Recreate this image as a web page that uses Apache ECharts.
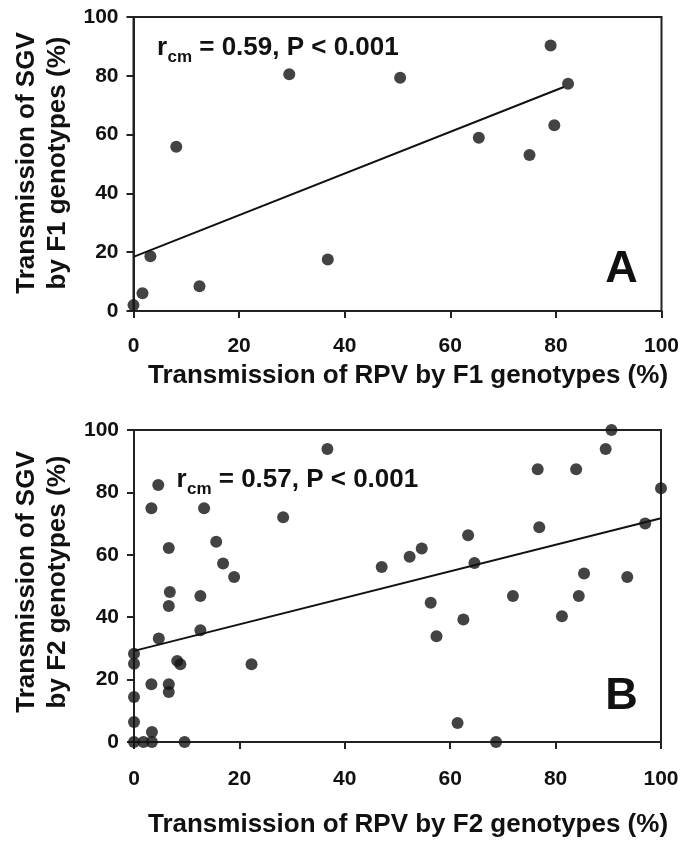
<!DOCTYPE html>
<html>
<head>
<meta charset="utf-8">
<script src="https://cdn.jsdelivr.net/npm/echarts@6/dist/echarts.min.js"></script>
<style>
html,body{margin:0;padding:0;background:#fff;}
#c{width:695px;height:842px;}
</style>
</head>
<body>
<div id="c"></div>
<script>
// Panel A (F1 genotypes)
const f1RPV = [0, 1.7, 3.2, 8.1, 12.5, 29.5, 36.8, 50.5, 65.4, 75, 79, 79.7, 82.3];
const f1SGV = [2, 6, 18.6, 55.9, 8.4, 80.5, 17.5, 79.3, 58.9, 53.1, 90.3, 63.2, 77.3];
const f1FitX = [0, 81.5];
const f1FitY = [18.4, 76.2];

// Panel B (F2 genotypes)
const f2RPV = [0, 0, 0, 0, 0, 1.8, 3.4, 3.4, 3.3, 3.3, 4.6, 4.7, 6.6, 6.8, 6.6, 6.6, 6.6, 8.2, 8.8, 9.6,
  12.6, 12.6, 13.3, 15.6, 16.9, 19, 22.3, 28.3, 36.7, 47, 52.3, 54.6, 63.4, 64.6, 56.3, 57.4, 62.5, 61.4,
  68.7, 71.9, 76.6, 76.9, 81.2, 83.9, 84.4, 85.4, 89.5, 90.6, 93.6, 97, 100];
const f2SGV = [28.3, 25.1, 14.4, 6.4, 0, 0, 0, 3.2, 18.5, 74.9, 82.4, 33.2, 62.2, 48.1, 43.6, 18.5, 16, 26, 24.9, 0,
  46.8, 35.8, 74.9, 64.2, 57.2, 52.9, 24.9, 72, 93.9, 56.1, 59.4, 62, 66.3, 57.4, 44.6, 33.9, 39.3, 6.1,
  0, 46.8, 87.4, 68.8, 40.3, 87.4, 46.8, 54, 93.9, 100, 52.9, 70, 81.3];
const f2FitX = [0, 100];
const f2FitY = [29.2, 71.7];

const ticks = [0, 20, 40, 60, 80, 100];
const titlesX = ['Transmission of RPV by F1 genotypes (%)', 'Transmission of RPV by F2 genotypes (%)'];
const titlesY1 = ['Transmission of SGV', 'Transmission of SGV'];
const titlesY2 = ['by F1 genotypes (%)', 'by F2 genotypes (%)'];
const stats = [' = 0.59, P < 0.001', ' = 0.57, P < 0.001'];
const panels = ['A', 'B'];

const pairs = (xs, ys) => xs.map((x, i) => [x, ys[i]]);

const mainFont = "'Liberation Sans', Arial, sans-serif";

function axisCommon() {
  return {
    type: 'value', min: 0, max: 100, interval: 20,
    axisLine: { show: true, onZero: false, lineStyle: { color: '#222', width: 2 } },
    axisTick: { show: true, inside: false, length: 7, lineStyle: { color: '#222', width: 2 } },
    splitLine: { show: false },
    axisLabel: {
      fontSize: 21, fontWeight: 'bold', fontFamily: mainFont, color: '#111',
      formatter: v => (ticks.indexOf(v) >= 0 ? String(v) : '')
    }
  };
}

const xA = Object.assign(axisCommon(), { gridIndex: 0 }); xA.axisLabel.margin = 25;
const xB = Object.assign(axisCommon(), { gridIndex: 1 }); xB.axisLabel.margin = 27;
const yA = Object.assign(axisCommon(), { gridIndex: 0 }); yA.axisLabel.margin = 15;
const yB = Object.assign(axisCommon(), { gridIndex: 1 }); yB.axisLabel.margin = 15;

function txt(x, y, text, size, opts) {
  opts = opts || {};
  return {
    type: 'text', x: x, y: y, rotation: opts.rotation || 0, z: 100,
    style: {
      text: text, fill: '#111',
      font: 'bold ' + size + 'px ' + mainFont,
      textAlign: opts.align || 'center',
      textVerticalAlign: 'middle', verticalAlign: 'middle'
    }
  };
}

const graphics = [
  txt(27, 163, titlesY1[0], 26, { rotation: Math.PI / 2 }),
  txt(58, 163, titlesY2[0], 26, { rotation: Math.PI / 2 }),
  txt(27, 582, titlesY1[1], 26, { rotation: Math.PI / 2 }),
  txt(58, 582, titlesY2[1], 26, { rotation: Math.PI / 2 }),
  txt(408, 376, titlesX[0], 26),
  txt(408, 825, titlesX[1], 26),
  txt(621.5, 270, panels[0], 45),
  txt(621.5, 697, panels[1], 45),
  // stats annotation, panel A
  txt(157, 48, 'r', 26, { align: 'left' }),
  txt(167.5, 57, 'cm', 17, { align: 'left' }),
  txt(192, 48, stats[0], 26, { align: 'left' }),
  // stats annotation, panel B
  txt(176.5, 480, 'r', 26, { align: 'left' }),
  txt(187, 489, 'cm', 17, { align: 'left' }),
  txt(211.5, 480, stats[1], 26, { align: 'left' })
];

const chart = echarts.init(document.getElementById('c'), null, { renderer: 'canvas' });
chart.setOption({
  animation: false,
  backgroundColor: '#fff',
  grid: [
    { left: 133.5, right: 33.5, top: 17, height: 294, show: true, borderColor: '#222', borderWidth: 2, backgroundColor: 'transparent' },
    { left: 134, right: 34, top: 430, height: 312, show: true, borderColor: '#222', borderWidth: 2, backgroundColor: 'transparent' }
  ],
  xAxis: [xA, xB],
  yAxis: [yA, yB],
  series: [
    { type: 'line', xAxisIndex: 0, yAxisIndex: 0, data: pairs(f1FitX, f1FitY), showSymbol: false, silent: true,
      lineStyle: { color: '#111', width: 2 } },
    { type: 'scatter', xAxisIndex: 0, yAxisIndex: 0, data: pairs(f1RPV, f1SGV), symbolSize: 12, clip: false,
      itemStyle: { color: '#141414' } },
    { type: 'line', xAxisIndex: 1, yAxisIndex: 1, data: pairs(f2FitX, f2FitY), showSymbol: false, silent: true,
      lineStyle: { color: '#111', width: 2 } },
    { type: 'scatter', xAxisIndex: 1, yAxisIndex: 1, data: pairs(f2RPV, f2SGV), symbolSize: 12, clip: false,
      itemStyle: { color: '#141414' } }
  ],
  graphic: graphics
});
</script>
</body>
</html>
